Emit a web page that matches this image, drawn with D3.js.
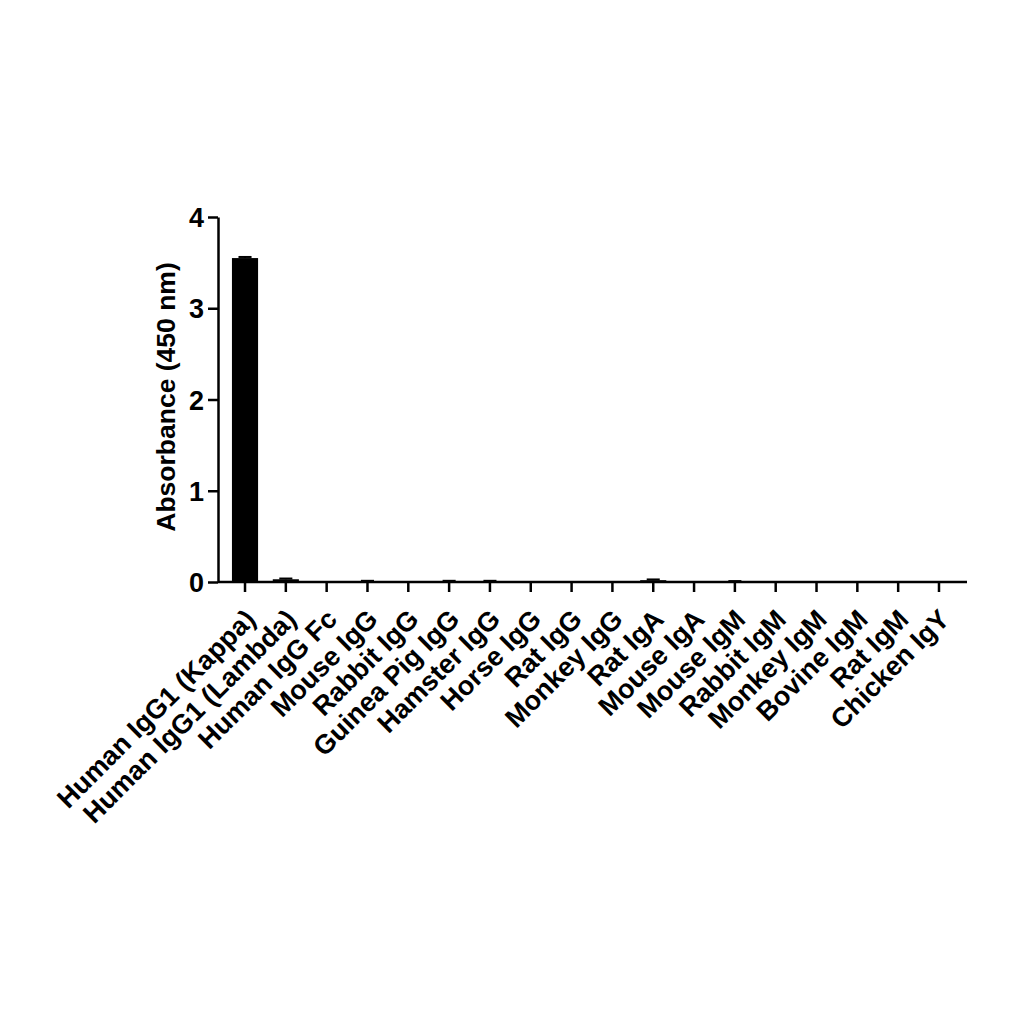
<!DOCTYPE html>
<html>
<head>
<meta charset="utf-8">
<script src="https://cdn.jsdelivr.net/npm/d3@7"></script>
<style>
  body { margin: 0; background: #fff; }
  svg { display: block; }
  .axis text { font-family: "Liberation Sans", Arial, sans-serif; font-weight: bold; font-size: 27px; fill: #000; }
  .labels { font-family: "Liberation Sans", Arial, sans-serif; font-weight: bold; font-size: 26.5px; fill: #000; }
</style>
</head>
<body>
<div id="vis"></div>
<script>
const categories = ["Human IgG1 (Kappa)", "Human IgG1 (Lambda)", "Human IgG Fc", "Mouse IgG", "Rabbit IgG",
    "Guinea Pig IgG", "Hamster IgG", "Horse IgG", "Rat IgG", "Monkey IgG", "Rat IgA", "Mouse IgA",
    "Mouse IgM", "Rabbit IgM", "Monkey IgM", "Bovine IgM", "Rat IgM", "Chicken IgY"]
const values = [3.55, 0.03, 0.004, 0.01, 0.004, 0.01, 0.01, 0.004, 0.004, 0.004, 0.02, 0.004,
    0.008, 0.004, 0.004, 0.004, 0.004, 0.004]
const errors = [0.012, 0.008, 0, 0.003, 0, 0.003, 0.003, 0, 0, 0, 0.008, 0,
    0.002, 0, 0, 0, 0, 0]
const yTicks = [0, 1, 2, 3, 4]

const width = 1024, height = 1024
const x0 = 218, x1 = 967, yBase = 582, yTop = 217

function init() {
    const data = categories.map((c, i) => ({ name: c, value: values[i], err: errors[i] }))

    const svg = d3.select('#vis')
        .append('svg')
        .attr('width', width)
        .attr('height', height)

    let xScale = d3.scaleBand()
        .domain(categories)
        .range([224.6, 959.4])
        .paddingInner(0.36)
        .paddingOuter(0.18)

    let yScale = d3.scaleLinear()
        .domain([0, 4])
        .range([yBase, yTop])

    // bars
    svg.selectAll("rect.bar")
        .data(data)
        .enter()
        .append("rect")
        .attr("class", "bar")
        .attr("x", d => xScale(d.name))
        .attr("y", d => yScale(d.value))
        .attr("width", xScale.bandwidth())
        .attr("height", d => yBase - yScale(d.value))
        .attr("fill", "#000")

    // error bars (upper only)
    const eb = svg.selectAll("g.err")
        .data(data.filter(d => d.err > 0))
        .enter()
        .append("g")
        .attr("class", "err")
        .attr("transform", d => `translate(${xScale(d.name) + xScale.bandwidth() / 2},0)`)
    eb.append("line")
        .attr("y1", d => yScale(d.value))
        .attr("y2", d => yScale(d.value + d.err))
        .attr("stroke", "#000").attr("stroke-width", 2)
    eb.append("line")
        .attr("x1", -xScale.bandwidth() / 4)
        .attr("x2", xScale.bandwidth() / 4)
        .attr("y1", d => yScale(d.value + d.err))
        .attr("y2", d => yScale(d.value + d.err))
        .attr("stroke", "#000").attr("stroke-width", 2)

    // y axis
    let yAxis = svg.append("g")
        .attr("class", "axis")
        .attr("transform", `translate(${x0},0)`)
        .call(d3.axisLeft(yScale).tickValues(yTicks).tickFormat(d3.format("d"))
            .tickSize(10).tickSizeOuter(0).tickPadding(4))
    yAxis.selectAll("path, line").attr("stroke", "#000").attr("stroke-width", 2.5)
    yAxis.selectAll("text").attr("dy", "0.36em")

    // x axis
    let xAxis = svg.append("g")
        .attr("class", "axis")
        .attr("transform", `translate(0,${yBase})`)
        .call(d3.axisBottom(xScale).tickSize(10).tickSizeOuter(0))
    xAxis.select(".domain").remove()
    xAxis.append("line")
        .attr("x1", x0).attr("x2", x1)
        .attr("stroke", "#000").attr("stroke-width", 2.5)
    xAxis.selectAll(".tick line").attr("stroke", "#000").attr("stroke-width", 2.5)
    xAxis.selectAll(".tick text")
        .attr("y", 0)
        .attr("dy", 0)
        .attr("text-anchor", "end")
        .attr("transform", "translate(12,39) rotate(-45)")

    // y axis title
    svg.append("text")
        .attr("class", "labels")
        .attr("transform", "rotate(-90)")
        .attr("x", -397)
        .attr("y", 175)
        .attr("text-anchor", "middle")
        .text("Absorbance (450 nm)")
}

window.addEventListener('load', init);
</script>
</body>
</html>
